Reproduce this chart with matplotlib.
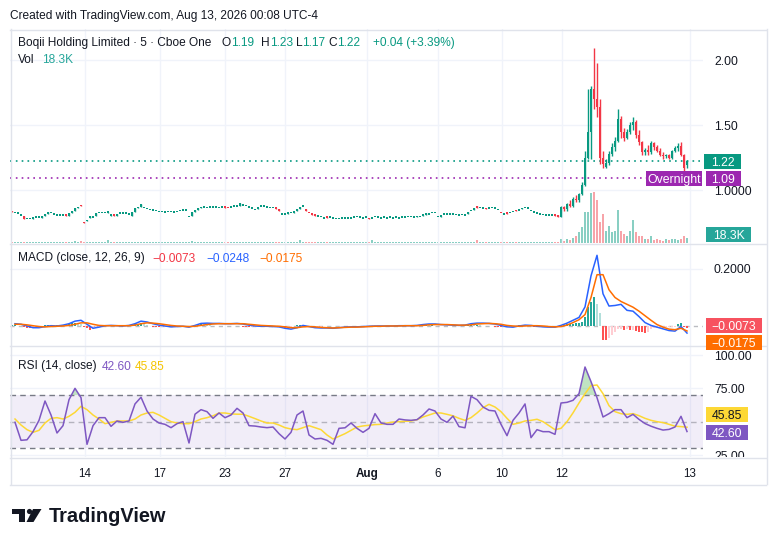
import numpy as np
import matplotlib.pyplot as plt
from matplotlib.patches import Rectangle, Polygon, Circle
from matplotlib.lines import Line2D
from matplotlib.transforms import IdentityTransform, Bbox

plt.rcParams['font.family'] = ['Liberation Sans', 'DejaVu Sans']

# ---- price bars, 5 min, before the run-up (open / close only) ----
flat_close = [
    0.830, 0.820, 0.815, 0.800, 0.775, 0.775, 0.780, 0.785, 0.785, 0.785,
    0.800, 0.815, 0.830, 0.820, 0.810, 0.800, 0.800, 0.800, 0.800, 0.820,
    0.840, 0.860, 0.870, 0.875, 0.745, 0.770, 0.800, 0.785, 0.820, 0.820,
    0.825, 0.820, 0.830, 0.810, 0.800, 0.815, 0.815, 0.815, 0.815, 0.810,
    0.830, 0.860, 0.870, 0.890, 0.860, 0.850, 0.845, 0.840, 0.835, 0.830,
    0.830, 0.825, 0.830, 0.830, 0.825, 0.830, 0.840, 0.840, 0.840, 0.790,
    0.830, 0.845, 0.860, 0.870, 0.865, 0.860, 0.865, 0.865, 0.865, 0.860,
    0.865, 0.865, 0.860, 0.865, 0.870, 0.870, 0.900, 0.880, 0.875, 0.865,
    0.855, 0.845, 0.865, 0.870, 0.870, 0.865, 0.860, 0.860, 0.855, 0.840,
    0.810, 0.810, 0.825, 0.820, 0.830, 0.850, 0.870, 0.870, 0.840, 0.820,
    0.810, 0.800, 0.795, 0.790, 0.780, 0.785, 0.785, 0.780, 0.775, 0.775,
    0.780, 0.780, 0.780, 0.780, 0.785, 0.790, 0.785, 0.780, 0.785, 0.775,
    0.780, 0.790, 0.785, 0.780, 0.785, 0.780, 0.785, 0.780, 0.785, 0.780,
    0.785, 0.785, 0.790, 0.790, 0.785, 0.800, 0.790, 0.805, 0.820, 0.810,
    0.825, 0.820, 0.790, 0.800, 0.810, 0.810, 0.810, 0.810, 0.805, 0.800,
    0.805, 0.800, 0.830, 0.840, 0.860, 0.865, 0.860, 0.855, 0.850, 0.855,
    0.860, 0.855, 0.845, 0.820, 0.810, 0.815, 0.825, 0.830, 0.835, 0.840,
    0.860, 0.860, 0.855, 0.835, 0.825, 0.815, 0.810, 0.805, 0.800, 0.800,
    0.800, 0.800, 0.795,
]
flat_open = [
    0.835, 0.820, 0.815, 0.800, 0.800, 0.775, 0.775, 0.780, 0.785, 0.785,
    0.785, 0.800, 0.815, 0.820, 0.810, 0.800, 0.800, 0.800, 0.805, 0.800,
    0.820, 0.840, 0.860, 0.885, 0.755, 0.760, 0.785, 0.785, 0.800, 0.820,
    0.820, 0.820, 0.825, 0.800, 0.810, 0.800, 0.815, 0.815, 0.815, 0.810,
    0.800, 0.830, 0.860, 0.870, 0.860, 0.850, 0.845, 0.840, 0.835, 0.830,
    0.830, 0.825, 0.830, 0.830, 0.825, 0.830, 0.835, 0.840, 0.840, 0.790,
    0.800, 0.830, 0.845, 0.860, 0.865, 0.860, 0.865, 0.865, 0.865, 0.860,
    0.865, 0.870, 0.865, 0.865, 0.870, 0.870, 0.880, 0.880, 0.875, 0.865,
    0.855, 0.845, 0.855, 0.870, 0.870, 0.865, 0.860, 0.860, 0.860, 0.850,
    0.810, 0.810, 0.815, 0.820, 0.825, 0.835, 0.855, 0.870, 0.850, 0.825,
    0.815, 0.805, 0.795, 0.790, 0.780, 0.790, 0.785, 0.780, 0.775, 0.775,
    0.780, 0.780, 0.780, 0.780, 0.785, 0.790, 0.785, 0.780, 0.785, 0.785,
    0.780, 0.790, 0.785, 0.780, 0.785, 0.780, 0.785, 0.780, 0.785, 0.780,
    0.785, 0.785, 0.790, 0.790, 0.785, 0.790, 0.790, 0.800, 0.810, 0.810,
    0.820, 0.820, 0.790, 0.795, 0.810, 0.810, 0.810, 0.810, 0.805, 0.800,
    0.805, 0.800, 0.815, 0.835, 0.845, 0.875, 0.860, 0.855, 0.860, 0.855,
    0.860, 0.855, 0.845, 0.825, 0.810, 0.825, 0.820, 0.830, 0.845, 0.840,
    0.850, 0.860, 0.855, 0.835, 0.825, 0.815, 0.810, 0.805, 0.800, 0.800,
    0.800, 0.805, 0.810,
]
flat_vol = [  # thousands
    4, 3, 2, 3, 5, 2, 2, 3, 2, 2, 3, 2, 4, 2, 2, 3, 2, 3, 4, 5,
    3, 8, 4, 6, 5, 3, 3, 2, 2, 3, 2, 4, 9, 3, 2, 2, 3, 2, 2, 3,
    3, 4, 5, 3, 2, 2, 3, 2, 2, 2, 2, 3, 2, 2, 3, 2, 2, 3, 2, 4,
    7, 4, 3, 2, 2, 3, 2, 2, 2, 3, 2, 2, 3, 2, 2, 3, 5, 3, 2, 2,
    2, 3, 2, 2, 3, 2, 2, 3, 2, 3, 3, 2, 3, 4, 3, 3, 9, 4, 3, 2,
    2, 3, 2, 2, 2, 3, 2, 2, 3, 2, 2, 2, 3, 2, 2, 2, 3, 2, 2, 3,
    9, 3, 2, 2, 3, 2, 2, 2, 3, 2, 2, 2, 3, 2, 2, 3, 2, 3, 4, 3,
    3, 2, 2, 3, 2, 2, 2, 3, 2, 2, 2, 3, 4, 3, 4, 10, 3, 2, 3, 2,
    2, 3, 2, 3, 4, 3, 2, 2, 3, 3, 3, 2, 3, 2, 2, 3, 2, 2, 4, 3,
    2, 3, 4,
]

# ---- the spike, Aug 12 -> 13 ----
spike_open = [0.795, 0.87, 0.85, 0.89, 0.88, 0.93, 0.92, 0.97, 1.04, 1.25,
              1.45, 1.78, 1.70, 1.64, 1.25, 1.18, 1.21, 1.28, 1.33, 1.38,
              1.55, 1.45, 1.40, 1.45, 1.50, 1.52, 1.42, 1.37, 1.29, 1.31,
              1.29, 1.36, 1.33, 1.30, 1.27, 1.26, 1.27, 1.25, 1.30, 1.32,
              1.34, 1.27, 1.19]
spike_high = [0.88, 0.88, 0.90, 0.92, 0.95, 0.96, 0.98, 1.06, 1.30, 1.78,
              1.80, 2.09, 1.98, 1.70, 1.30, 1.24, 1.30, 1.36, 1.41, 1.62,
              1.57, 1.48, 1.47, 1.52, 1.56, 1.54, 1.46, 1.38, 1.32, 1.35,
              1.38, 1.37, 1.35, 1.32, 1.29, 1.28, 1.28, 1.31, 1.34, 1.36,
              1.37, 1.28, 1.23]
spike_low = [0.79, 0.84, 0.84, 0.87, 0.87, 0.91, 0.91, 0.96, 1.03, 1.24,
             1.24, 1.62, 1.56, 1.20, 1.17, 1.17, 1.19, 1.26, 1.30, 1.37,
             1.40, 1.38, 1.39, 1.43, 1.46, 1.40, 1.35, 1.27, 1.27, 1.27,
             1.28, 1.31, 1.29, 1.26, 1.24, 1.25, 1.24, 1.24, 1.29, 1.30,
             1.26, 1.15, 1.17]
spike_close = [0.87, 0.85, 0.89, 0.88, 0.93, 0.92, 0.97, 1.04, 1.25, 1.45,
               1.78, 1.70, 1.64, 1.25, 1.20, 1.21, 1.28, 1.33, 1.38, 1.55,
               1.45, 1.40, 1.45, 1.50, 1.52, 1.42, 1.37, 1.29, 1.31, 1.29,
               1.36, 1.33, 1.30, 1.27, 1.26, 1.27, 1.25, 1.30, 1.32, 1.34,
               1.27, 1.17, 1.22]
spike_vol = [13, 7, 13, 10, 19, 25, 37, 55, 109, 109, 175, 179, 151, 73, 103,
             43, 61, 37, 43, 115, 43, 31, 25, 43, 79, 37, 25, 25, 13, 13,
             25, 10, 13, 10, 7, 13, 10, 13, 13, 10, 13, 25, 18.3]

# ---- MACD histogram, one per bar ----
macd_hist = [
    0.002, 0.002, 0.001, -0.001, -0.004, -0.006, -0.007, -0.005, -0.003, 0.000,
    0.001, 0.002, 0.003, 0.002, 0.001, 0.002, 0.003, 0.005, 0.006, 0.008,
    0.010, 0.011, 0.010, 0.006, -0.003, -0.008, -0.013, -0.012, -0.008, -0.004,
    -0.001, 0.000, 0.001, 0.001, 0.000, 0.000, -0.001, 0.000, 0.001, 0.002,
    0.004, 0.006, 0.008, 0.009, 0.006, 0.002, 0.000, -0.002, -0.004, -0.005,
    -0.005, -0.005, -0.005, -0.004, -0.002, -0.001, 0.000, -0.001, -0.002, -0.002,
    0.001, 0.004, 0.006, 0.007, 0.006, 0.004, 0.002, 0.001, 0.001, 0.000,
    0.000, 0.000, 0.000, 0.001, 0.001, 0.000, -0.001, -0.002, -0.003, -0.004,
    -0.004, -0.004, -0.003, -0.003, -0.002, -0.002, -0.002, -0.002, -0.002, -0.003,
    -0.005, -0.006, -0.005, -0.003, 0.000, 0.002, 0.005, 0.004, 0.001, -0.001,
    -0.003, -0.003, -0.002, -0.002, -0.001, -0.001, -0.001, 0.000, 0.000, 0.001,
    0.001, 0.001, 0.001, 0.001, 0.001, 0.001, 0.001, 0.001, 0.001, 0.001,
    0.001, 0.001, 0.000, 0.001, 0.001, 0.000, 0.001, 0.001, 0.000, 0.000,
    0.001, 0.001, 0.000, 0.001, 0.002, 0.003, 0.003, 0.003, 0.003, 0.002,
    0.002, 0.001, 0.000, -0.001, -0.001, -0.001, -0.001, -0.001, -0.001, 0.000,
    0.000, 0.002, 0.004, 0.004, 0.003, 0.003, 0.002, 0.001, 0.000, -0.001,
    -0.001, -0.002, -0.004, -0.005, -0.005, -0.004, -0.003, -0.001, 0.001, 0.002,
    0.003, 0.002, 0.001, -0.001, -0.002, -0.003, -0.003, -0.002, -0.002, -0.002,
    -0.001, -0.001, 0.000,
    0.002, 0.004, 0.006, 0.007, 0.008, 0.009, 0.010, 0.015, 0.030, 0.067,
    0.085, 0.100, 0.078, 0.045, -0.048, -0.050, -0.042, -0.032, -0.022, -0.012,
    -0.012, -0.014, -0.012, -0.014, -0.013, -0.018, -0.020, -0.022, -0.023, -0.020,
    -0.010, -0.008, -0.007, -0.007, -0.006, -0.005, -0.005, -0.004, -0.002, 0.006,
    0.009, -0.005, -0.0073,
]

# ---- MACD / signal / RSI / RSI-MA, read every second bar ----
macd_line = [
    0.008, 0.006, 0.000, -0.006, -0.006, -0.002, 0.001, 0.000, 0.003, 0.008,
    0.017, 0.020, 0.006, -0.008, -0.004, 0.001, 0.002, 0.001, 0.000, 0.002,
    0.008, 0.017, 0.014, 0.008, 0.003, 0.000, -0.003, -0.002, -0.001, -0.004,
    0.002, 0.009, 0.010, 0.009, 0.009, 0.008, 0.008, 0.009, 0.007, 0.003,
    0.000, -0.001, -0.001, -0.002, -0.003, -0.008, -0.011, -0.006, 0.002, -0.002,
    -0.006, -0.007, -0.007, -0.008, -0.006, -0.004, -0.003, -0.003, -0.002, -0.001,
    0.000, 0.000, 0.000, 0.000, 0.001, 0.001, 0.001, 0.002, 0.005, 0.007,
    0.007, 0.005, 0.004, 0.003, 0.002, 0.003, 0.008, 0.010, 0.010, 0.009,
    0.007, 0.002, -0.003, -0.004, 0.000, 0.003, 0.002, -0.001, -0.003, -0.004,
    -0.004, 0.002, 0.010, 0.020, 0.030, 0.067, 0.176, 0.248, 0.113, 0.070,
    0.072, 0.076, 0.055, 0.052, 0.033, 0.012, 0.002, -0.004, -0.010, -0.016,
    -0.018, -0.002, -0.0248,
]
macd_signal = [
    0.006, 0.006, 0.004, 0.001, -0.002, -0.003, -0.002, -0.001, 0.000, 0.002,
    0.006, 0.011, 0.011, 0.006, 0.002, 0.001, 0.001, 0.001, 0.001, 0.001,
    0.003, 0.008, 0.011, 0.010, 0.008, 0.005, 0.002, 0.000, -0.001, -0.002,
    -0.001, 0.002, 0.005, 0.007, 0.008, 0.008, 0.008, 0.008, 0.008, 0.006,
    0.004, 0.002, 0.001, 0.000, -0.001, -0.003, -0.006, -0.006, -0.003, -0.002,
    -0.003, -0.005, -0.006, -0.007, -0.006, -0.005, -0.004, -0.004, -0.003, -0.002,
    -0.001, -0.001, 0.000, 0.000, 0.000, 0.001, 0.001, 0.001, 0.002, 0.004,
    0.005, 0.005, 0.005, 0.004, 0.003, 0.003, 0.004, 0.007, 0.008, 0.009,
    0.008, 0.006, 0.002, 0.000, -0.001, 0.000, 0.001, 0.001, 0.000, -0.002,
    -0.003, -0.002, 0.003, 0.012, 0.022, 0.040, 0.100, 0.180, 0.180, 0.127,
    0.100, 0.086, 0.076, 0.066, 0.052, 0.036, 0.020, 0.005, -0.004, -0.011,
    -0.013, -0.008, -0.0175,
]
rsi_vals = [
    49.5, 36, 36.4, 42.5, 51, 65.5, 55, 41.5, 47, 66.5,
    75, 68, 33, 47, 53, 53, 46.5, 50.5, 49.5, 50.5,
    63.3, 68.3, 58, 52, 49, 48, 45.5, 48.5, 50, 34,
    55.6, 59, 57.5, 52.5, 56.5, 53, 55, 60, 56.5, 47,
    46.7, 46, 45.5, 46, 41, 37, 42, 55, 58, 40,
    37, 37.5, 36, 33, 45, 45.4, 49, 45, 42, 45,
    56, 49, 48, 48, 52, 51.3, 51, 51.5, 55, 59.5,
    58, 52, 49.5, 54.2, 46.3, 45.4, 69, 66.5, 61, 58.5,
    58, 48, 39.5, 51, 56.5, 63.3, 38, 44, 42.5, 42.5,
    40.5, 64, 64.5, 66, 71, 91, 80, 68, 53.5, 56,
    59, 59, 53, 55.5, 51.7, 48.6, 46.6, 45, 43.7, 44.2,
    46, 54, 42.6,
]
rsi_ma = [
    52, 47.5, 44, 42, 43.5, 49, 52.5, 53, 52, 54,
    57, 61.5, 59, 55, 52, 48.5, 49.5, 50.5, 50.5, 50.5,
    52, 55, 56.5, 57, 55, 52.5, 50, 49, 48.5, 48.5,
    50, 52, 53, 54.4, 56.5, 56.5, 55.8, 55.6, 55.6, 54,
    52.3, 50.5, 49, 49, 47.5, 45.5, 44.5, 44, 45.5, 47,
    45.5, 44, 40, 37, 39, 41, 43.5, 46, 46.8, 47.3,
    47.8, 48, 49, 49.7, 50, 50.3, 50.5, 51.5, 53.5, 55,
    56.5, 56.5, 55.5, 54.4, 52.5, 51, 53, 56.5, 60.5, 63,
    61, 57.5, 52.5, 48, 49, 50.5, 51, 51.8, 50, 47,
    44, 45, 50, 56.6, 64, 71, 77, 77.5, 71, 62,
    57.5, 56, 55.5, 56, 54.5, 52.5, 51, 50, 49.3, 48,
    46.6, 46.3, 45.85,
]

# time axis (bar index of each session label)
tick_bars = [24.3, 49.3, 71, 91, 118.3, 142, 163.3, 183.3, 226]
tick_labels = ["14", "17", "23", "27", "Aug", "6", "10", "12", "13"]

UP, DN = "#089981", "#f23645"
TXT = "#131722"
GRID = "#f0f3fa"
SEP = "#e0e3eb"

W, H = 776, 546
fig = plt.figure(figsize=(W / 100, H / 100), dpi=100)
ID = IdentityTransform()


def rect(x0, y0, x1, y1):
    return [x0 / W, 1 - y1 / H, (x1 - x0) / W, (y1 - y0) / H]


def clean(ax):
    for s in ax.spines.values():
        s.set_visible(False)
    ax.set_xticks([])
    ax.set_yticks([])


o = np.array(flat_open + spike_open)
c = np.array(flat_close + spike_close)
hi = np.array(list(np.maximum(flat_open, flat_close)) + spike_high)
lo = np.array(list(np.minimum(flat_open, flat_close)) + spike_low)
vol = np.array(flat_vol + spike_vol, dtype=float)
hist = np.array(macd_hist)
N = len(c)
x = np.arange(N)
xs = np.arange(1, 2 * len(rsi_vals), 2)
xlim = (-0.67, 230.33)

# ---- price pane + volume ----
ax_p = fig.add_axes(rect(10, 29, 703, 243))
ax_v = ax_p.twinx()
ax_p.set_zorder(ax_v.get_zorder() + 1)
ax_p.patch.set_visible(False)
for a in (ax_p, ax_v):
    clean(a)
    a.set_xlim(*xlim)
ax_p.set_ylim(0.5923, 2.2385)
ax_v.set_ylim(0, 751)

up = c >= o
ax_v.bar(x, vol, width=0.7, color=np.where(up, "#89cfc3", "#f7a4a9"), linewidth=0)
for v in (1.0, 1.5, 2.0):
    ax_p.axhline(v, color=GRID, lw=1, zorder=0)
for b in tick_bars:
    ax_p.axvline(b, color=GRID, lw=1, zorder=0)
ax_p.axhline(1.22, color=UP, lw=1.2, ls=(0, (1, 2.5)), zorder=1)
ax_p.axhline(1.09, color="#9c27b0", lw=1.2, ls=(0, (1, 2.5)), zorder=1)
col = np.where(up, UP, DN)
ax_p.vlines(x, lo, hi, colors=col, lw=1, zorder=2)
ax_p.bar(x, np.maximum(np.abs(c - o), 0.012), bottom=np.minimum(o, c),
         width=0.7, color=col, linewidth=0, zorder=3)

# ---- MACD pane ----
ax_m = fig.add_axes(rect(10, 243, 703, 345))
clean(ax_m)
ax_m.set_xlim(*xlim)
ax_m.set_ylim(-0.0667, 0.2912)
ax_m.axhline(0.2, color=GRID, lw=1, zorder=0)
for b in tick_bars:
    ax_m.axvline(b, color=GRID, lw=1, zorder=0)
ax_m.axhline(0, color="#787b86", lw=1, alpha=0.5, ls=(0, (3, 3)), zorder=1)
prev = np.concatenate([[0.0], hist[:-1]])
hcol = np.where(hist >= 0, np.where(hist >= prev, "#26a69a", "#b2dfdb"),
                np.where(hist < prev, "#ff5252", "#ffcdd2"))
ax_m.bar(x, hist, width=0.7, color=hcol, linewidth=0, zorder=2)
ax_m.plot(xs, macd_line, color="#2962ff", lw=1.1, zorder=3)
ax_m.plot(xs, macd_signal, color="#ff6d00", lw=1.1, zorder=3)

# ---- RSI pane ----
ax_r = fig.add_axes(rect(10, 345, 703, 457))
clean(ax_r)
ax_r.set_xlim(*xlim)
ax_r.set_ylim(23.5, 107.5)
for v in (100, 75, 25):
    ax_r.axhline(v, color=GRID, lw=1, zorder=0)
for b in tick_bars:
    ax_r.axvline(b, color=GRID, lw=1, zorder=0)
ax_r.axhspan(30, 70, color="#7e57c2", alpha=0.1, lw=0, zorder=0)
ax_r.axhline(70, color="#787b86", lw=1, ls=(0, (4, 3)), zorder=1)
ax_r.axhline(30, color="#787b86", lw=1, ls=(0, (4, 3)), zorder=1)
ax_r.axhline(50, color="#787b86", lw=1, alpha=0.5, ls=(0, (4, 3)), zorder=1)
rsi_arr = np.array(rsi_vals)
ax_r.fill_between(xs, 70, rsi_arr, where=rsi_arr > 70, interpolate=True,
                  color="#4caf50", alpha=0.35, lw=0, zorder=1)
ax_r.plot(xs, rsi_ma, color="#fdd835", lw=1.1, zorder=2)
ax_r.plot(xs, rsi_vals, color="#7e57c2", lw=1.1, zorder=3)


# ---- frame lines ----
def hline(y, x0=10, x1=766):
    fig.add_artist(Line2D([x0, x1], [H - y, H - y], transform=ID, color=SEP, lw=1))


def vline(xp, y0=29, y1=484):
    fig.add_artist(Line2D([xp, xp], [H - y0, H - y1], transform=ID, color=SEP, lw=1))


for yy in (29.5, 243.5, 345.5, 457.5, 484.5):
    hline(yy)
vline(10.5)
vline(766.5)


def ftext(xp, yp, s, **kw):
    kw.setdefault("fontsize", 8.6)
    kw.setdefault("color", TXT)
    kw.setdefault("va", "baseline")
    return fig.text(xp, H - yp, s, transform=ID, **kw)


def ydisp(ax, v):
    return ax.transData.transform((0, v))[1]


def tag(x0, x1, yc, s, fc, tc="white"):
    fig.add_artist(Rectangle((x0, yc - 7.5), x1 - x0, 15, transform=ID,
                             fc=fc, ec="none", zorder=5))
    fig.text((x0 + x1) / 2, yc, s, transform=ID, ha="center", va="center_baseline",
             color=tc, fontsize=8.8, zorder=6)


def axis_label(ax, v, s, clip=None):
    t = fig.text(714, ydisp(ax, v), s, transform=ID, va="center_baseline",
                 color=TXT, fontsize=8.8)
    if clip is not None:
        t.set_clip_box(clip)
        t.set_clip_on(True)


axis_label(ax_p, 2.0, "2.00")
axis_label(ax_p, 1.5, "1.50")
axis_label(ax_p, 1.0, "1.0000")
axis_label(ax_m, 0.2, "0.2000")
axis_label(ax_r, 100, "100.00")
axis_label(ax_r, 75, "75.00")
axis_label(ax_r, 25, "25.00", clip=Bbox.from_extents(700, H - 457, 776, H - 345))

tag(704, 741, ydisp(ax_p, 1.22), "1.22", UP)
tag(646, 702, ydisp(ax_p, 1.09), "Overnight", "#9c27b0")
tag(706, 741, ydisp(ax_p, 1.09), "1.09", "#9c27b0")
tag(706, 751, ydisp(ax_v, 18.3) + 3.5, "18.3K", "#26a69a")
tag(706, 762, ydisp(ax_m, -0.0073) + 3, "\u22120.0073", "#f7525f")
tag(706, 762, ydisp(ax_m, -0.0175) - 12, "\u22120.0175", "#ff6d00")
tag(706, 748, ydisp(ax_r, 45.85) + 12.7, "45.85", "#fdd835", tc=TXT)
tag(706, 748, ydisp(ax_r, 42.60) - 1, "42.60", "#7e57c2")

# ---- time axis ----
for b, s in zip(tick_bars, tick_labels):
    xd = ax_r.transData.transform((b, 0))[0]
    fig.text(xd, H - 477, s, transform=ID, ha="center", va="baseline", color=TXT,
             fontsize=8.4, fontweight="bold" if s == "Aug" else "normal")

# ---- legends ----
ftext(10, 18.5, "Created with TradingView.com, Aug 13, 2026 00:08 UTC-4")
ftext(18, 46, "Boqii Holding Limited \u00b7 5 \u00b7 Cboe One")
for xp, lab, val in [(222, "O", "1.19"), (261, "H", "1.23"), (296, "L", "1.17"), (328, "C", "1.22")]:
    t = ftext(xp, 46, lab)
    ftext(xp + (9 if lab in "OH" else (6 if lab == "L" else 9)), 46, val, color=UP)
ftext(373, 46, "+0.04 (+3.39%)", color=UP)
ftext(18, 63, "Vol")
ftext(42, 63, "18.3K", color="#26a69a")

ftext(18, 261.5, "MACD (close, 12, 26, 9)")
ftext(152, 261.5, "\u22120.0073", color="#f23645")
ftext(206, 261.5, "\u22120.0248", color="#2962ff")
ftext(259, 261.5, "\u22120.0175", color="#ff6d00")

ftext(18, 369.5, "RSI (14, close)")
ftext(102, 369.5, "42.60", color="#7e57c2")
ftext(135, 369.5, "45.85", color="#f5c400")

# ---- TradingView logo ----
fig.add_artist(Rectangle((12, H - 514), 13, 5, transform=ID, fc=TXT, ec="none"))
fig.add_artist(Rectangle((19, H - 522), 6, 13, transform=ID, fc=TXT, ec="none"))
fig.add_artist(Circle((29.5, H - 511.5), 2.6, transform=ID, fc=TXT, ec="none"))
fig.add_artist(Polygon([(33, H - 509), (41.5, H - 509), (33.5, H - 522), (26.5, H - 522)],
                       closed=True, transform=ID, fc=TXT, ec="none"))
ftext(49, 522, "TradingView", fontsize=14.4, fontweight="bold")

fig.savefig("out.png", dpi=100)
